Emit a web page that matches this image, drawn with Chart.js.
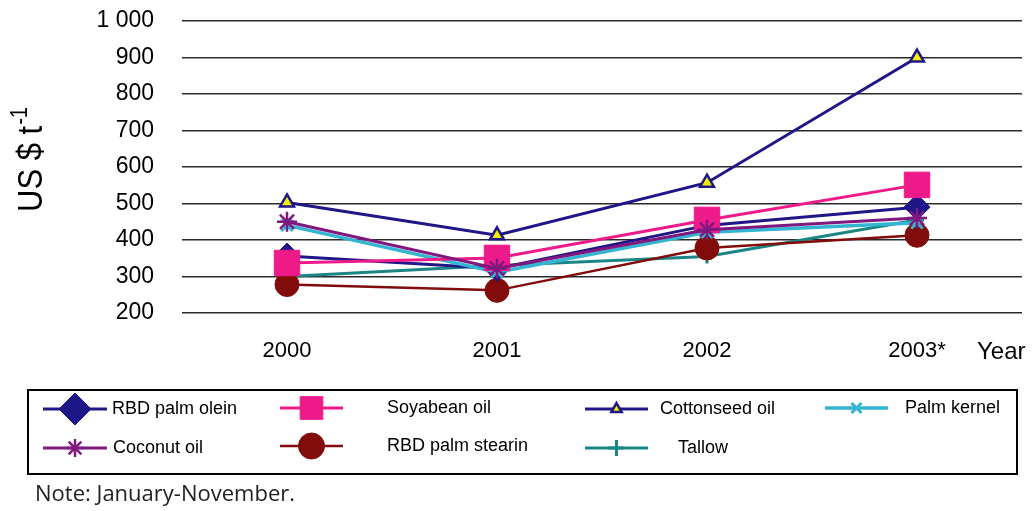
<!DOCTYPE html>
<html>
<head>
<meta charset="utf-8">
<script src="https://cdn.jsdelivr.net/npm/chart.js@4.4.1/dist/chart.umd.min.js"></script>
<style>
  html, body { margin: 0; padding: 0; background: #fff; }
</style>
</head>
<body>
<canvas id="oilPriceChart" width="1034" height="511"></canvas>
<script>
  // years on the x axis (2003 = January-November only)
  const years = ["2000", "2001", "2002", "2003*"];

  // prices, US$ per tonne
  const rbdPalmOlein = [356, 322, 440, 490];
  const soyabeanOil = [337, 351, 455, 551];
  const cottonseedOil = [503, 413, 557, 900];
  const palmKernel = [440, 312, 421, 447];
  const coconutOil = [450, 322, 428, 460];
  const rbdPalmStearin = [278, 262, 378, 413];
  const tallow = [300, 330, 355, 455];

  const yTicks = [200, 300, 400, 500, 600, 700, 800, 900, 1000];

  const NAVY = "#1f1687";
  const FONT = "'Liberation Sans', Arial, sans-serif";

  function series(label, data, color, style, radius, extra) {
    return Object.assign({
      label: label,
      data: data,
      borderColor: color,
      backgroundColor: color,
      borderWidth: 3,
      pointStyle: style,
      pointRadius: radius,
      pointHoverRadius: radius,
      pointBackgroundColor: color,
      pointBorderColor: color,
      pointBorderWidth: 1,
      tension: 0,
    }, extra || {});
  }

  const datasets = [
    series("RBD palm olein", rbdPalmOlein, NAVY, "rectRot", 13, { order: 5 }),
    series("Soyabean oil", soyabeanOil, "#ee1a8a", "rect", 18, { order: 3 }),
    series("Cottonseed oil", cottonseedOil, NAVY, "triangle", 8,
      { order: 1, pointBackgroundColor: "#f2ee00", pointBorderWidth: 2.5 }),
    series("Palm kernel", palmKernel, "#33b5d3", "crossRot", 8, { order: 4, borderWidth: 3.5, pointBorderWidth: 3 }),
    series("Coconut oil", coconutOil, "#80187f", "star", 10, { order: 2, pointBorderWidth: 2.5 }),
    series("RBD palm stearin", rbdPalmStearin, "#820c0c", "circle", 12, { order: 6, borderWidth: 2.5 }),
    series("Tallow", tallow, "#1b8585", "cross", 7, { order: 7, pointBorderWidth: 3 }),
  ];

  // where each legend entry sits: line start, line end, text x, row y, marker size
  const legendSlots = [
    { x0: 43, x1: 107, tx: 112, y: 409, r: 16 },
    { x0: 280, x1: 343, tx: 387, y: 408, r: 16 },
    { x0: 585, x1: 648, tx: 660, y: 409, r: 6 },
    { x0: 825, x1: 888, tx: 905, y: 408, r: 7 },
    { x0: 43, x1: 107, tx: 113, y: 448, r: 9 },
    { x0: 280, x1: 343, tx: 387, y: 446, r: 13 },
    { x0: 585, x1: 648, tx: 678, y: 448, r: 8 },
  ];

  const extrasPlugin = {
    id: "extras",
    afterDraw(chart) {
      const ctx = chart.ctx;
      ctx.save();

      // y axis title with superscript
      ctx.save();
      ctx.translate(42, 212);
      ctx.rotate(-Math.PI / 2);
      ctx.scale(1, 1.15);
      ctx.fillStyle = "#000";
      ctx.textAlign = "left";
      ctx.textBaseline = "alphabetic";
      ctx.font = "31px " + FONT;
      ctx.fillText("US $ t", 0, 0);
      const w = ctx.measureText("US $ t").width;
      ctx.font = "20px " + FONT;
      ctx.fillText("-1", w + 1, -13);
      ctx.restore();

      // "Year" label
      ctx.fillStyle = "#000";
      ctx.font = "24px " + FONT;
      ctx.textAlign = "left";
      ctx.textBaseline = "middle";
      ctx.fillText("Year", 977, 352);

      // legend box
      ctx.strokeStyle = "#000";
      ctx.lineWidth = 2;
      ctx.strokeRect(28, 390, 989, 84);

      chart.data.datasets.forEach(function (ds, i) {
        const s = legendSlots[i];
        ctx.strokeStyle = ds.borderColor;
        ctx.lineWidth = ds.borderWidth;
        ctx.beginPath();
        ctx.moveTo(s.x0, s.y);
        ctx.lineTo(s.x1, s.y);
        ctx.stroke();
        ctx.fillStyle = ds.pointBackgroundColor;
        ctx.strokeStyle = ds.pointBorderColor;
        ctx.lineWidth = ds.pointBorderWidth;
        Chart.helpers.drawPoint(ctx, {
          pointStyle: ds.pointStyle, radius: s.r, borderWidth: ds.pointBorderWidth, rotation: 0
        }, (s.x0 + s.x1) / 2, s.y);
        ctx.fillStyle = "#000";
        ctx.font = "18px " + FONT;
        ctx.textAlign = "left";
        ctx.textBaseline = "middle";
        ctx.fillText(ds.label, s.tx, s.y);
      });

      // footnote
      ctx.fillStyle = "#222";
      ctx.font = "22px 'Open Sans', sans-serif";
      ctx.textBaseline = "middle";
      ctx.fillText("Note: January-November.", 35, 495);
      ctx.restore();
    },
  };

  const ctx = document.getElementById("oilPriceChart").getContext("2d");
  const myChart = new Chart(ctx, {
    type: "line",
    data: { labels: years, datasets: datasets },
    plugins: [extrasPlugin],
    options: {
      responsive: false,
      animation: false,
      layout: { autoPadding: false, padding: { left: 0, top: 21, right: 12, bottom: 0 } },
      plugins: { legend: { display: false }, tooltip: { enabled: false } },
      scales: {
        x: {
          offset: true,
          grid: { display: false, drawTicks: false },
          border: { display: false },
          ticks: {
            color: "#000",
            padding: 25,
            maxRotation: 0,
            font: { family: FONT, size: 22 },
          },
          afterFit(scale) {
            scale.height = 198;
            scale.paddingLeft = 0;
            scale.paddingRight = 0;
          },
        },
        y: {
          min: 200,
          max: 1000,
          afterBuildTicks(scale) { scale.ticks = yTicks.map(v => ({ value: v })); },
          grid: { color: "#2a2a2a", lineWidth: 1.5, drawTicks: false },
          border: { display: false },
          ticks: {
            color: "#000",
            padding: 28,
            font: { family: FONT, size: 23 },
            callback: v => v >= 1000 ? "1 000" : String(v),
          },
          afterFit(scale) {
            scale.width = 182;
            scale.paddingTop = 0;
            scale.paddingBottom = 0;
          },
        },
      },
    },
  });
</script>
</body>
</html>
